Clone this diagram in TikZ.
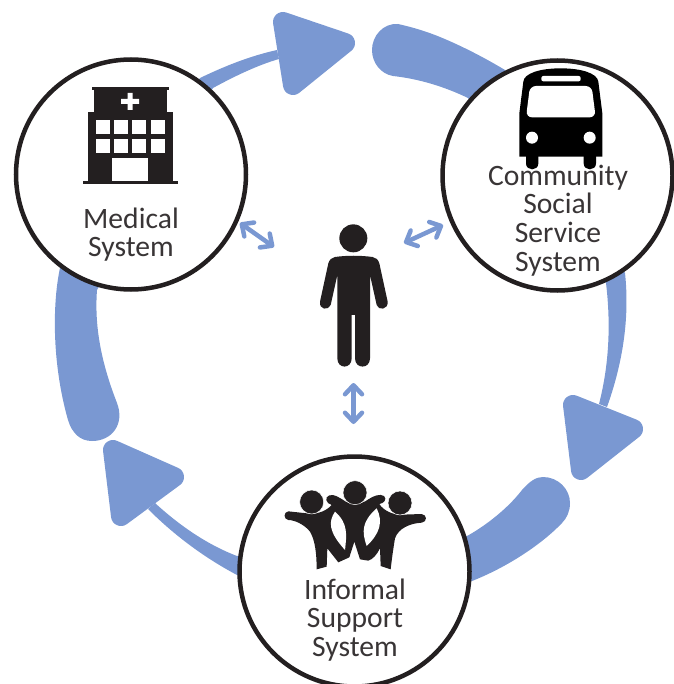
\documentclass[tikz,border=0pt]{standalone}
\usepackage{fontspec}
\setmainfont{Carlito}
\usepackage{xcolor}
\usetikzlibrary{arrows.meta, positioning}
\definecolor{flowblue}{HTML}{7A98D2}
\definecolor{iconblack}{HTML}{231F20}
\tikzstyle{system} = [circle, minimum size=230pt, inner sep=0pt, draw=iconblack, line width=4.5pt, fill=white]
\tikzstyle{caption} = [align=center, inner sep=0pt, text=iconblack!90, font=\fontsize{29.6}{28.6}\selectfont]
\tikzstyle{swoosh} = [fill=flowblue]
\tikzstyle{head} = [fill=flowblue, draw=flowblue, line width=20pt, line join=round]
\tikzstyle{link} = [flowblue, line width=4.5pt, line cap=round, {Straight Barb[round,length=9pt,width=17pt]}-{Straight Barb[round,length=9pt,width=17pt]}]
\tikzstyle{icon} = [fill=iconblack]

\begin{document}
\begin{tikzpicture}[x=1pt, y=-1pt]
\useasboundingbox (0,0) rectangle (673,684);

% big arrows, they run behind the circles
\fill [swoosh] (505,70) .. controls (485,58) and (462,46) .. (440,37) .. controls (428,32) and (412,27) .. (398,24)
  .. controls (383,23) and (372,36) .. (372,50) .. controls (372,63) and (381,74) .. (393,76)
  .. controls (420,79) and (445,87) .. (468,98) -- (606,283) .. controls (611,325) and (609,365) .. (599,404)
  -- (607,407) .. controls (622,365) and (630,320) .. (625,273) -- cycle;
\fill [swoosh] (467,536) .. controls (480,529) and (505,512) .. (522,490) .. controls (530,481) and (536,477) .. (543,477)
  .. controls (558,477) and (570,489) .. (570,503) .. controls (570,511) and (567,518) .. (562,523)
  .. controls (540,546) and (505,568) .. (472,581) -- (237,575) .. controls (205,558) and (175,536) .. (148,509)
  -- (155,503) .. controls (180,526) and (208,545) .. (237,556) -- cycle;
\fill [swoosh] (60,268) .. controls (53,300) and (51,360) .. (68,420) .. controls (72,433) and (80,441) .. (92,441)
  .. controls (112,441) and (125,424) .. (117,403) .. controls (103,367) and (94,330) .. (97,290)
  -- (213,88) .. controls (235,76) and (258,65) .. (279,59) -- (277,50) .. controls (250,56) and (225,66) .. (200,78) -- cycle;
\draw [head] (283,22) -- (345,43) -- (293,85) -- cycle;
\draw [head] (573,405) -- (633,429) -- (581,470) -- cycle;
\draw [head] (113,450) -- (174,477) -- (121,516) -- cycle;

\node (medical) [system] at (131,174.5) {};
\node (community) [system] at (557.5,175.5) {};
\node (informal) [system] at (354.5,571.5) {};

% hospital
\begin{scope}
\fill [icon] (92,87) rectangle (169,90);
\fill [icon] (94,90) rectangle (167,112);
\fill [icon] (88,112) rectangle (173,182);
\fill [icon] (83,181) rectangle (178,184);
\fill [white] (121,99) rectangle (139,104) (127.5,93) rectangle (132.5,110);
\foreach \wx in {96,114,132,151} {
  \foreach \wy in {120,139} {
    \fill [white] (\wx,\wy) rectangle ++(13.7,14);
  }
}
\fill [white] (112,158) rectangle (148,181);
\end{scope}

% bus
\begin{scope}[shift={(340,0)},scale=1/3]
\fill [black] (558,460) -- (595,460) -- (595,490) .. controls (595,514) and (558,514) .. (558,490) -- cycle;
\fill [black] (731,460) -- (768,460) -- (768,490) .. controls (768,514) and (731,514) .. (731,490) -- cycle;
\fill [black] (538,470) -- (538,340) -- (550,245) .. controls (552,220) and (600,205) .. (662,205)
  .. controls (725,205) and (772,220) .. (775,245) -- (787,340) -- (787,470) -- cycle;
\fill [white, rounded corners=6pt] (570,258) -- (755,258) -- (767,352) -- (558,352) -- cycle;
\fill [white, rounded corners=2pt] (604,228) rectangle (722,244);
\fill [white] (576,413) circle (18) (749,413) circle (18);
\end{scope}

% person
\begin{scope}[shift={(220,210)},scale=1/3]
\fill [icon] (400,85) circle (42);
\fill [icon] (345,141) .. controls (380,136) and (420,136) .. (458,141) .. controls (468,142) and (475,150) .. (478,160)
  -- (503,275) .. controls (505,300) and (475,302) .. (470,285) -- (450,195) -- (450,445)
  .. controls (450,478) and (405,478) .. (405,445) -- (405,315) -- (395,315) -- (395,445)
  .. controls (395,478) and (352,478) .. (352,445) -- (352,195) -- (332,285)
  .. controls (325,302) and (297,300) .. (300,275) -- (325,160) .. controls (328,150) and (335,142) .. (345,141) -- cycle;
\end{scope}

% group of three
\begin{scope}[shift={(220,440)},scale=1/3]
\fill [icon] (205,214) -- (270,221) .. controls (295,222) and (320,212) .. (335,195)
  .. controls (318,190) and (312,172) .. (328,166) .. controls (345,162) and (355,172) .. (370,180)
  .. controls (385,195) and (425,195) .. (445,178) .. controls (460,168) and (480,160) .. (492,168)
  .. controls (502,178) and (492,190) .. (478,192) .. controls (490,212) and (520,225) .. (545,224)
  -- (605,222) .. controls (622,224) and (622,246) .. (605,248) .. controls (570,250) and (535,265) .. (525,295)
  .. controls (520,325) and (515,360) .. (512,388) -- (482,378) -- (480,325)
  .. controls (470,345) and (458,358) .. (445,362) -- (420,358) -- (403,305) -- (388,352) -- (355,367) -- (322,325)
  -- (320,380) -- (290,388) .. controls (290,340) and (285,300) .. (270,275)
  .. controls (255,255) and (225,240) .. (205,240) .. controls (190,238) and (190,216) .. (205,214) -- cycle;
\fill [white] (345,215) .. controls (325,245) and (325,275) .. (375,330) .. controls (380,285) and (385,250) .. (345,215) -- cycle;
\fill [white] (470,205) .. controls (425,245) and (425,275) .. (440,318) .. controls (480,280) and (490,245) .. (470,205) -- cycle;
\draw [icon, draw=white, line width=0.5pt] (275,186) circle (36) (405,158) circle (36) (540,189) circle (36);
\end{scope}

\node (medicaltext) [caption] at (131,234.5) {Medical\\System};
\node (communitytext) [caption] at (558,220.5) {Community\\Social\\Service\\System};
\node (informaltext) [caption] at (355,620) {Informal\\Support\\System};

% links to the person
\coordinate (medicalend) at (240,223);
\coordinate (medicalperson) at (274,247);
\coordinate (communityend) at (443,225);
\coordinate (communityperson) at (404,243);
\coordinate (informalend) at (353.5,424);
\coordinate (informalperson) at (353.5,383);
\draw [link] (medicalend) -- (medicalperson);
\draw [link] (communityend) -- (communityperson);
\draw [link] (informalend) -- (informalperson);

\end{tikzpicture}
\end{document}
